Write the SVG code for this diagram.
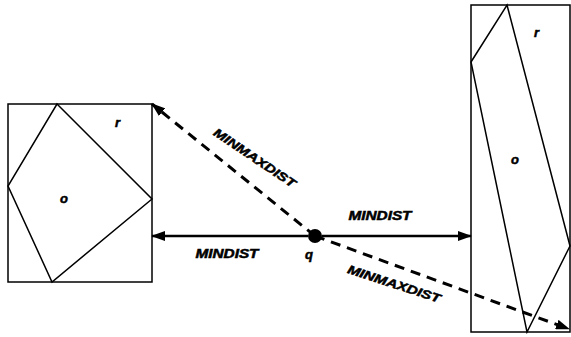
<svg xmlns="http://www.w3.org/2000/svg" width="571" height="337" viewBox="0 0 571 337">
<style>
.box{fill:none;stroke:#000;stroke-width:1.5}
.obj{fill:none;stroke:#000;stroke-width:1.5;stroke-linejoin:miter}
.solid{fill:none;stroke:#000;stroke-width:2.5}
.dash{fill:none;stroke:#000;stroke-width:3;stroke-dasharray:10 7}
.lbl{font-family:"Liberation Sans",Arial,sans-serif;font-weight:bold;font-style:italic;font-size:12px;fill:#000;stroke:#000;stroke-width:0.5}
.sm{font-size:13px}
</style>
<defs>
<marker id="ah" viewBox="0 0 14 10" refX="13" refY="5" markerWidth="14" markerHeight="10" markerUnits="userSpaceOnUse" orient="auto-start-reverse">
<path d="M0,0 L14,5 L0,10 Z" fill="#000"/>
</marker>
</defs>
<g id="left-node">
<rect class="box" x="8" y="104" width="144" height="178"/>
<polygon class="obj" points="57,104 152,199 52,282 8,186"/>
<text class="lbl sm" x="115" y="127">r</text>
<text class="lbl sm" x="64" y="203" text-anchor="middle">o</text>
</g>
<g id="right-node">
<rect class="box" x="471" y="5" width="99" height="327"/>
<polygon class="obj" points="507,5 570,246 527,332 471,62"/>
<text class="lbl sm" x="534" y="37">r</text>
<text class="lbl sm" x="515" y="164" text-anchor="middle">o</text>
</g>
<g id="query">
<circle cx="315" cy="236" r="7" fill="#000"/>
<text class="lbl sm" x="309" y="259" text-anchor="middle">q</text>
</g>
<g id="connectors">
<line class="solid" x1="308" y1="236" x2="152" y2="236" marker-end="url(#ah)"/>
<line class="solid" x1="322" y1="236" x2="471" y2="236" marker-end="url(#ah)"/>
<line class="dash" x1="315" y1="236" x2="152" y2="104" marker-end="url(#ah)"/>
<line class="dash" x1="315" y1="236" x2="569" y2="329" marker-end="url(#ah)"/>
<text class="lbl" x="227" y="258" text-anchor="middle" textLength="63" lengthAdjust="spacingAndGlyphs">MINDIST</text>
<text class="lbl" x="380" y="220" text-anchor="middle" textLength="63" lengthAdjust="spacingAndGlyphs">MINDIST</text>
<text class="lbl" text-anchor="middle" textLength="96" lengthAdjust="spacingAndGlyphs" transform="translate(254.5,158) rotate(34)" x="0" y="4">MINMAXDIST</text>
<text class="lbl" text-anchor="middle" textLength="97" lengthAdjust="spacingAndGlyphs" transform="translate(394,284) rotate(18)" x="0" y="4">MINMAXDIST</text>
</g>
</svg>
